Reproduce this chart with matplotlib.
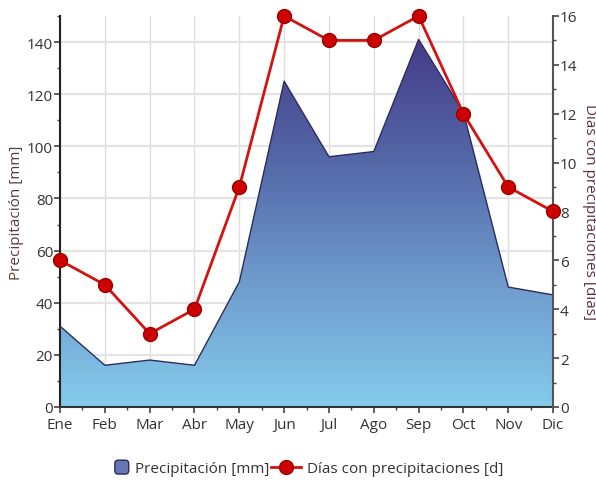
import numpy as np
import matplotlib.pyplot as plt
from matplotlib.colors import LinearSegmentedColormap
from matplotlib.legend_handler import HandlerPatch
from matplotlib.lines import Line2D
from matplotlib.patches import Patch, FancyBboxPatch

plt.rcParams['font.family'] = ['Open Sans', 'DejaVu Sans']

meses = ['Ene', 'Feb', 'Mar', 'Abr', 'May', 'Jun', 'Jul', 'Ago', 'Sep', 'Oct', 'Nov', 'Dic']
precip_mm = [31, 16, 18, 16, 48, 125, 96, 98, 141, 113, 46, 43]
dias_precip = [6, 5, 3, 4, 9, 16, 15, 15, 16, 12, 9, 8]

x = np.arange(len(meses))
txt = '#333333'


class SquareHandler(HandlerPatch):
    # small rounded square instead of the default wide rectangle
    def create_artists(self, legend, orig_handle, xdescent, ydescent,
                       width, height, fontsize, trans):
        side = height * 1.3
        x0 = width - side - xdescent
        y0 = -ydescent + (height - side) / 2
        p = FancyBboxPatch((x0, y0), side, side,
                           boxstyle='round,pad=0,rounding_size=%f' % (side * 0.25),
                           facecolor=orig_handle.get_facecolor(),
                           edgecolor=orig_handle.get_edgecolor(),
                           linewidth=1.0, transform=trans)
        return [p]


fig = plt.figure(figsize=(5.96, 4.85), dpi=100)
ax = fig.add_axes([0.1007, 0.1588, 0.8273, 0.8062])
ax2 = ax.twinx()

# area with vertical gradient, clipped to the filled polygon
poly = ax.fill_between(x, 0, precip_mm, facecolor='none', edgecolor='none')
cmap = LinearSegmentedColormap.from_list('precip', ['#84cbeb', '#6f9ccd', '#5468a8', '#463c88'])
grad = np.linspace(0, 1, 256).reshape(-1, 1)
img = ax.imshow(grad, cmap=cmap, origin='lower', aspect='auto',
                extent=[x[0], x[-1], 0, max(precip_mm)], zorder=2)
img.set_clip_path(poly.get_paths()[0], transform=ax.transData)
ax.plot(x, precip_mm, color='#2c2c5c', lw=1.0, zorder=3)

ax2.plot(x, dias_precip, color='#d41212', lw=2.0, marker='o', markersize=10,
         markerfacecolor='#cc0000', markeredgecolor='#9a0000', markeredgewidth=1.0,
         zorder=4, clip_on=False)

ax.set_xlim(x[0], x[-1])
ax.set_ylim(0, 150)
ax2.set_ylim(0, 16)

ax.set_xticks(x)
ax.set_xticklabels(meses)
ax.set_xticks(x[:-1] + 0.5, minor=True)
ax.set_yticks(np.arange(0, 141, 20))
ax.set_yticks(np.arange(10, 151, 20), minor=True)
ax2.set_yticks(np.arange(0, 17, 2))
ax2.set_yticks(np.arange(1, 16, 2), minor=True)

ax.grid(axis='y', color='#e4e4e4', lw=1.6)
ax.grid(axis='x', color='#dedede', lw=1.0)
ax.set_axisbelow(True)

for a in (ax, ax2):
    a.tick_params(which='major', length=4, width=1.2, colors='#444444',
                  labelcolor=txt, labelsize=11, pad=1)
    a.tick_params(which='minor', length=2.5, width=1.0, colors='#444444')
    a.spines['top'].set_visible(False)
ax.tick_params(axis='x', which='major', pad=3)
ax.spines['left'].set_color('#222222')
ax.spines['left'].set_linewidth(1.5)
ax.spines['bottom'].set_color('#333333')
ax.spines['bottom'].set_linewidth(1.5)
ax.spines['right'].set_visible(False)
ax2.spines['left'].set_visible(False)
ax2.spines['bottom'].set_visible(False)
ax2.spines['right'].set_color('#555555')
ax2.spines['right'].set_linewidth(1.5)

ax.set_ylabel('Precipitación [mm]', color='#5a3e36', fontsize=11, labelpad=2)
ax2.set_ylabel('Días con precipitaciones [días]', color='#5b3042', fontsize=11,
               rotation=-90, labelpad=14)

area_handle = Patch(facecolor='#6676b2', edgecolor='#2c2c5c')
line_handle = Line2D([], [], color='#d41212', lw=2.0, marker='o', markersize=10,
                     markerfacecolor='#cc0000', markeredgecolor='#9a0000')
fig.legend([area_handle, line_handle],
           ['Precipitación [mm]', 'Días con precipitaciones [d]'],
           handler_map={Patch: SquareHandler()},
           loc='center', bbox_to_anchor=(0.505, 0.031), ncol=2, frameon=False,
           fontsize=11, handlelength=2.0, handletextpad=0.4, columnspacing=0.1,
           labelcolor=txt)

fig.savefig('out.png', dpi=100)
